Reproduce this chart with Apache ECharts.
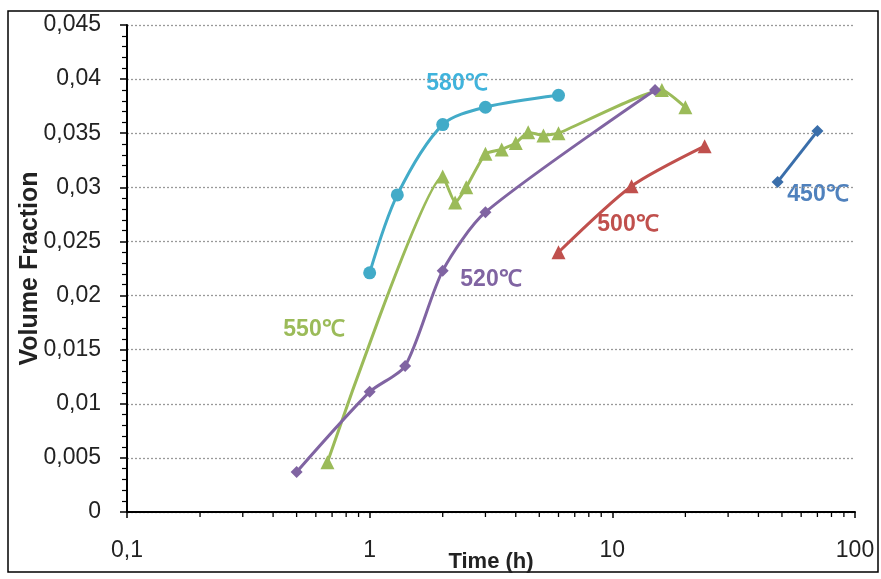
<!DOCTYPE html>
<html><head><meta charset="utf-8">
<script src="https://cdn.jsdelivr.net/npm/echarts@6/dist/echarts.min.js"></script>
<style>html,body{margin:0;padding:0;background:#fff}#c{width:881px;height:579px}</style>
</head><body><div id="c"></div>
<script>
// Data (time in h, volume fraction)
const t580 = [1, 1.3, 2, 3, 6];
const v580 = [0.0221, 0.0293, 0.0358, 0.0374, 0.0385];
const t550 = [0.67, 2, 2.25, 2.5, 3, 3.5, 4, 4.5, 5.2, 6, 16, 20];
const v550 = [0.0046, 0.031, 0.0286, 0.030, 0.0331, 0.0335, 0.0341, 0.0351, 0.0348, 0.0350, 0.0390, 0.0374];
const t520 = [0.5, 1, 1.4, 2, 3, 15];
const v520 = [0.0037, 0.0111, 0.0135, 0.0223, 0.0277, 0.0390];
const t500 = [6, 12, 24];
const v500 = [0.0240, 0.0301, 0.0338];
const t450 = [48, 70];
const v450 = [0.0305, 0.0352];
const seriesNames = ['580℃', '550℃', '520℃', '500℃', '450℃'];
const xTicks = [0.1, 1, 10, 100];
const xMinorTicks = [0.2,0.3,0.4,0.5,0.6,0.7,0.8,0.9,2,3,4,5,6,7,8,9,20,30,40,50,60,70,80,90];

const zip = (a, b) => a.map((x, i) => [x, b[i]]);
const chart = echarts.init(document.getElementById('c'));
const font = '"Liberation Sans", Arial, sans-serif';
function line(name, t, v, color, symbol, size, smooth) {
  return {
    name, type: 'line', data: zip(t, v), smooth, symbol, symbolSize: size,
    lineStyle: { color, width: 3 }, itemStyle: { color }, z: 3
  };
}
chart.setOption({
  animation: false,
  grid: { left: 127, right: 26, top: 25, bottom: 67, containLabel: false, outerBoundsMode: 'none' },
  xAxis: {
    type: 'log', logBase: 10, min: 0.1, max: 100,
    name: 'Time (h)', nameLocation: 'middle', nameGap: 39, nameMoveOverlap: false,
    nameTextStyle: { fontFamily: font, fontWeight: 'bold', fontSize: 22, color: '#222' },
    axisLine: { lineStyle: { color: '#000', width: 2 } },
    axisTick: { show: true, length: 6, lineStyle: { color: '#000', width: 1.5 } },
    splitLine: { show: false },
    axisLabel: { fontFamily: font, fontSize: 23, color: '#222', margin: 27,
      formatter: v => String(Number(v.toPrecision(3))).replace('.', ',') }
  },
  yAxis: {
    type: 'value', min: 0, max: 0.045, interval: 0.005,
    name: 'Volume Fraction', nameLocation: 'middle', nameGap: 84, nameMoveOverlap: false,
    nameTextStyle: { fontFamily: font, fontWeight: 'bold', fontSize: 25, color: '#222' },
    axisLine: { show: true, lineStyle: { color: '#000', width: 2 } },
    axisTick: { show: true, length: 7, lineStyle: { color: '#000', width: 1.5 } },
    minorTick: { show: true, splitNumber: 5, length: 5, lineStyle: { color: '#000', width: 1.2 } },
    splitLine: { show: true, lineStyle: { color: '#999', type: [2, 2], width: 1.3 } },
    axisLabel: { fontFamily: font, fontSize: 23, color: '#222', margin: 26,
      formatter: v => String(Number(v.toFixed(3))).replace('.', ',') }
  },
  series: [
    line(seriesNames[0], t580, v580, '#42abc8', 'circle', 13, 0.3),
    line(seriesNames[1], t550, v550, '#9bbb59', 'triangle', 14, 0.15),
    line(seriesNames[2], t520, v520, '#8064a2', 'diamond', 12, 0.25),
    line(seriesNames[3], t500, v500, '#c0504d', 'triangle', 14, 0.25),
    line(seriesNames[4], t450, v450, '#3a6eaa', 'diamond', 12, 0.25),
    {
      type: 'custom', silent: true, clip: false, z: 5,
      data: xMinorTicks.map(x => [x, 0]),
      renderItem: (params, api) => {
        const p = api.coord([api.value(0), 0]);
        return { type: 'line', shape: { x1: p[0], y1: p[1], x2: p[0], y2: p[1] + 5 },
          style: { stroke: '#000', lineWidth: 1.3 } };
      }
    }
  ],
  graphic: [
    { type: 'rect', shape: { x: 8, y: 11, width: 870, height: 561 }, style: { fill: null, stroke: '#000', lineWidth: 1.5 }, silent: true },
    { type: 'text', x: 457, y: 84, style: { text: '580℃', fill: '#3fb3dc', font: 'bold 23px "Liberation Sans", Arial', align: 'center', verticalAlign: 'middle' } },
    { type: 'text', x: 314, y: 330, style: { text: '550℃', fill: '#9bbb59', font: 'bold 23px "Liberation Sans", Arial', align: 'center', verticalAlign: 'middle' } },
    { type: 'text', x: 491, y: 280, style: { text: '520℃', fill: '#8064a2', font: 'bold 23px "Liberation Sans", Arial', align: 'center', verticalAlign: 'middle' } },
    { type: 'text', x: 628, y: 225, style: { text: '500℃', fill: '#c0504d', font: 'bold 23px "Liberation Sans", Arial', align: 'center', verticalAlign: 'middle' } },
    { type: 'text', x: 818, y: 195, style: { text: '450℃', fill: '#4f81bd', font: 'bold 23px "Liberation Sans", Arial', align: 'center', verticalAlign: 'middle' } }
  ]
});
</script></body></html>
